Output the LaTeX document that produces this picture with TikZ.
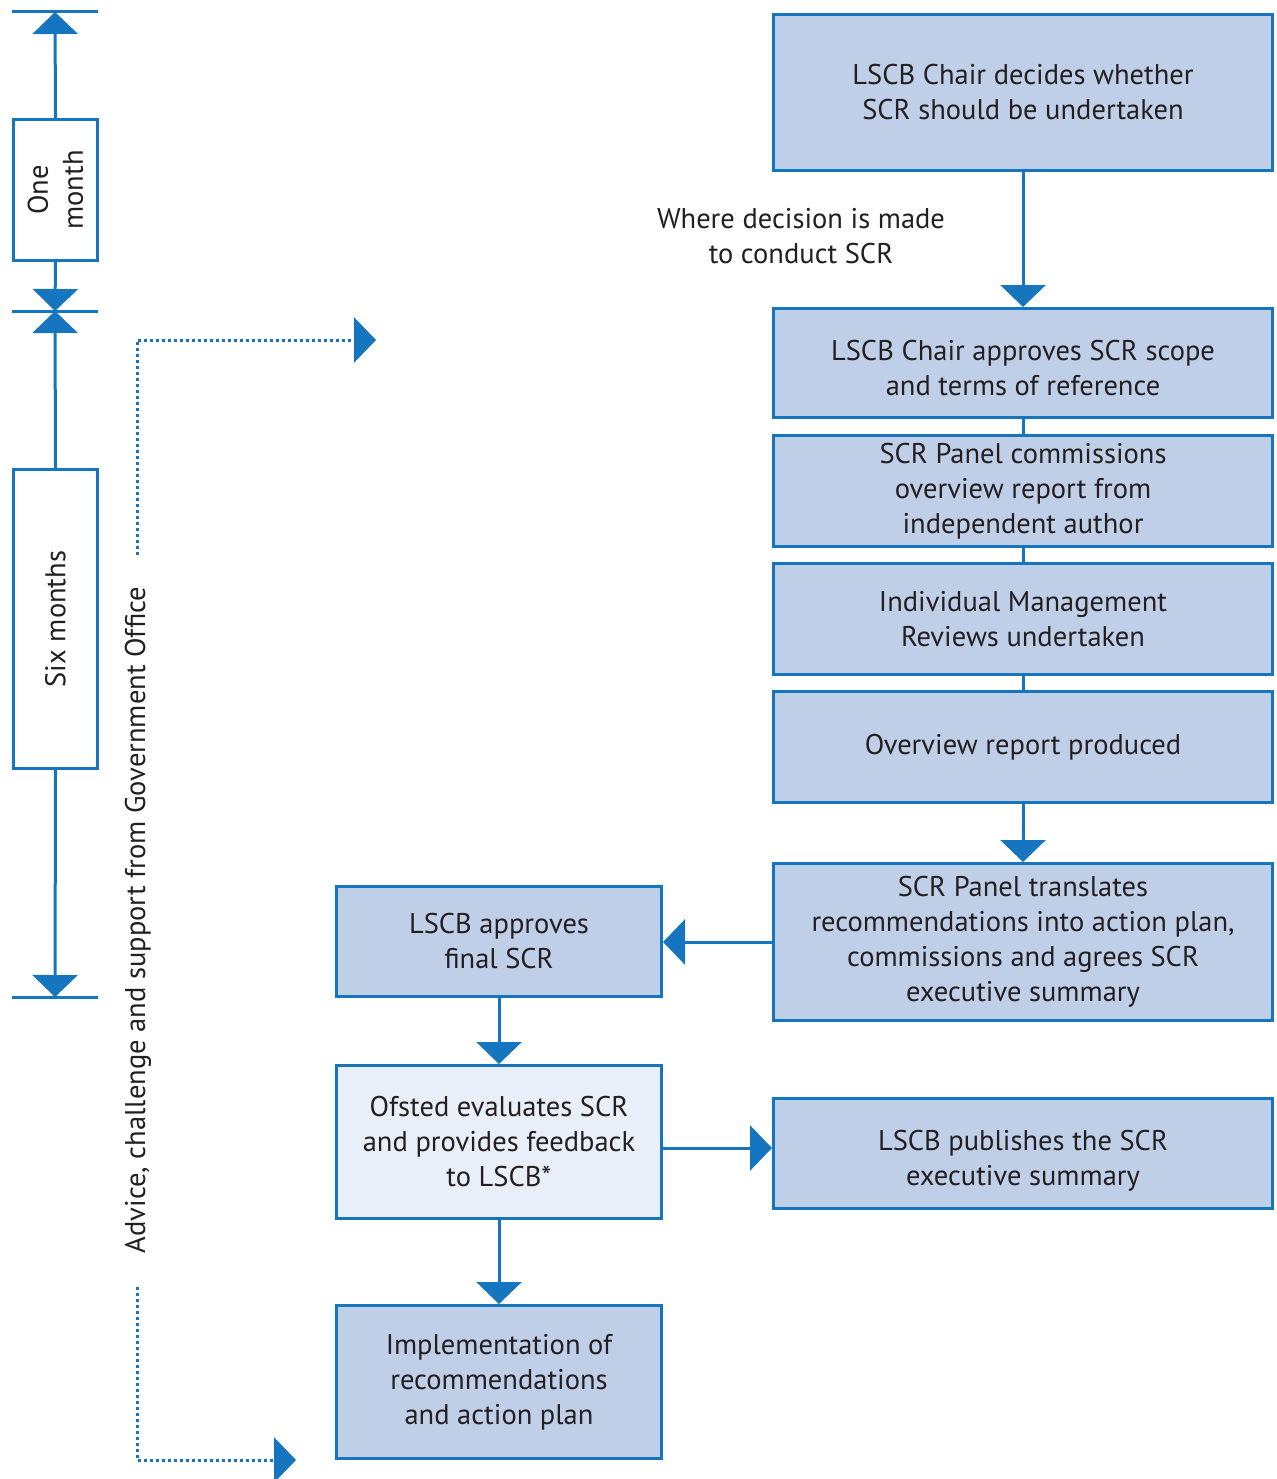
\documentclass[tikz,border=0pt]{standalone}
\usepackage{fontspec}
\setmainfont{PT Sans}
\usetikzlibrary{arrows.meta}
\definecolor{scrblue}{RGB}{21,117,190}
\definecolor{scrfill}{RGB}{192,207,232}
\definecolor{scrpale}{RGB}{233,239,248}
\definecolor{scrtext}{RGB}{35,31,32}

\begin{document}
\begin{tikzpicture}[x=1pt, y=-1pt,
        font=\fontsize{28.5}{35}\selectfont,
        stage/.style={draw=scrblue, line width=3pt, fill=scrfill, text=scrtext, align=center, inner sep=0pt, minimum width=499pt},
        span/.style={draw=scrblue, line width=3pt, fill=white, text=scrtext, align=center, inner sep=0pt, rotate=90, minimum height=84pt},
        flow/.style={draw=scrblue, line width=3pt, -{Triangle[length=22pt, width=45pt]}},
        link/.style={draw=scrblue, line width=3pt},
        dotflow/.style={draw=scrblue, line width=3pt, dash pattern=on 3pt off 3pt, -{Triangle[length=22pt, width=45pt]}}]
        \useasboundingbox (0,0) rectangle (1276,1479);

        % right column
        \node[stage, minimum height=156pt] (decide) at (1023,92.5) {LSCB Chair decides whether\\SCR should be undertaken};
        \node[stage, minimum height=109pt, text height=66pt] (scope) at (1023,363) {LSCB Chair approves SCR scope\\and terms of reference};
        \node[stage, minimum height=111pt] (panel) at (1023,491) {SCR Panel commissions\\overview report from\\independent author};
        \node[stage, minimum height=111pt] (reviews) at (1023,619) {Individual Management\\Reviews undertaken};
        \node[stage, minimum height=111pt] (overview) at (1023,747) {Overview report produced};
        \node[stage, minimum height=157pt] (translate) at (1023,942) {SCR Panel translates\\recommendations into action plan,\\commissions and agrees SCR\\executive summary};
        \node[stage, minimum height=110pt, text height=70pt] (publish) at (1023,1153.5) {LSCB publishes the SCR\\executive summary};

        % left column
        \node[stage, minimum width=325pt, minimum height=110pt] (approve) at (499,941.5) {LSCB approves\\final SCR};
        \node[stage, fill=scrpale, minimum width=325pt, minimum height=153pt] (ofsted) at (499,1142) {Ofsted evaluates SCR\\and provides feedback\\to LSCB*};
        \node[stage, minimum width=325pt, minimum height=153pt] (implement) at (499,1382) {Implementation of\\recommendations\\and action plan};

        \node[text=scrtext, align=center] (decision) at (801,236) {Where decision is made\\to conduct SCR};

        \draw[flow] (decide) -- (scope);
        \draw[link] (scope) -- (panel);
        \draw[link] (panel) -- (reviews);
        \draw[link] (reviews) -- (overview);
        \draw[flow] (overview) -- (translate);
        \draw[flow] (translate.west) -- (translate.west -| approve.east);
        \draw[flow] (approve) -- (ofsted);
        \draw[flow] (ofsted) -- (implement);
        \draw[flow] ([yshift=-6pt]ofsted.east) -- ([yshift=-6pt]ofsted.east -| publish.west);

        % timeline
        \node[span, minimum width=141pt] (onemonth) at (55.5,190) {One\\month};
        \node[span, minimum width=299pt] (sixmonths) at (55.5,619) {Six months};
        \coordinate (start) at (55,12);
        \coordinate (split) at (55,311);
        \coordinate (finish) at (55,997);
        \foreach \t in {start, split, finish} {
            \draw[link] (\t) ++(-43,0) -- ++(86,0);
        }
        \draw[flow] (onemonth.east) -- (start);
        \draw[flow] (onemonth.west) -- (split);
        \draw[flow] (sixmonths.east) -- (split);
        \draw[flow] (sixmonths.west) -- (finish);

        % advice
        \node[text=scrtext, rotate=90] (advice) at (138,920) {Advice, challenge and support from Government Office};
        \coordinate (advtop) at (137,555);
        \coordinate (advtopend) at (376,340);
        \coordinate (advbot) at (137,1287);
        \coordinate (advbotend) at (296,1460);
        \draw[dotflow] (advtop) |- (advtopend);
        \draw[dotflow] (advbot) |- (advbotend);
    \end{tikzpicture}
\end{document}
